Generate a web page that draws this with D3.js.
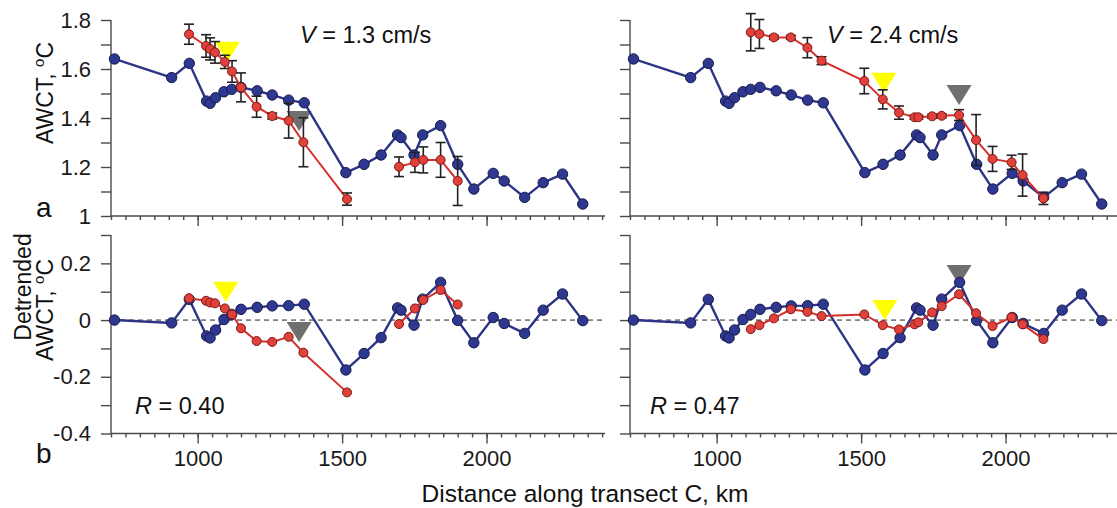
<!DOCTYPE html>
<html>
<head>
<meta charset="utf-8">
<script src="https://cdn.jsdelivr.net/npm/d3@7"></script>
<style>
  body { margin: 0; background: #fff; }
  svg { display: block; font-family: "Liberation Sans", Arial, sans-serif; }
  .tick text { fill: #1a1a1a; }
</style>
</head>
<body>
<svg id="chart" width="1117" height="508"></svg>
<script>
// blue series (same in both panels)
const distBlue = [712, 910, 971, 1031, 1043, 1062, 1091, 1118, 1150, 1206, 1258, 1315, 1369, 1513, 1576, 1635, 1692, 1704, 1749, 1779, 1841, 1900, 1956, 2023, 2061, 2132, 2196, 2263, 2333];
const awctBlue = [1.641, 1.565, 1.623, 1.469, 1.46, 1.483, 1.507, 1.517, 1.525, 1.511, 1.494, 1.473, 1.462, 1.177, 1.211, 1.249, 1.331, 1.32, 1.249, 1.331, 1.369, 1.211, 1.11, 1.174, 1.143, 1.076, 1.136, 1.171, 1.049];
const detBlue = [0.0, -0.01, 0.073, -0.056, -0.063, -0.035, 0.002, 0.02, 0.038, 0.045, 0.05, 0.051, 0.056, -0.176, -0.118, -0.062, 0.043, 0.035, -0.018, 0.074, 0.133, -0.001, -0.08, 0.009, -0.012, -0.047, 0.035, 0.092, -0.002];

// red series, V = 1.3 cm/s (two segments)
const distRedA = [970, 1029, 1043, 1060, 1094, 1119, 1150, 1204, 1258, 1315, 1366, 1517, 1697, 1752, 1781, 1841, 1900];
const awctRedA = [1.742, 1.694, 1.682, 1.668, 1.629, 1.59, 1.525, 1.446, 1.408, 1.389, 1.301, 1.069, 1.201, 1.219, 1.229, 1.229, 1.143];
const errRedA = [0.041, 0.046, 0.045, 0.044, 0.027, 0.044, 0.059, 0.043, 0.012, 0.071, 0.10, 0.025, 0.04, 0.041, 0.053, 0.071, 0.10];
const detRedA = [0.077, 0.068, 0.062, 0.059, 0.041, 0.02, -0.029, -0.074, -0.077, -0.059, -0.115, -0.255, -0.014, 0.041, 0.071, 0.106, 0.055];
const segRedA = [0, 0, 0, 0, 0, 0, 0, 0, 0, 0, 0, 0, 1, 1, 1, 1, 1];

// red series, V = 2.4 cm/s
const distRedB = [1118, 1148, 1198, 1257, 1314, 1363, 1511, 1575, 1631, 1685, 1698, 1746, 1779, 1839, 1898, 1955, 2021, 2059, 2131];
const awctRedB = [1.75, 1.743, 1.729, 1.729, 1.687, 1.634, 1.551, 1.476, 1.422, 1.403, 1.403, 1.407, 1.409, 1.412, 1.31, 1.233, 1.219, 1.167, 1.072];
const errRedB = [0.076, 0.059, 0.008, 0.008, 0.041, 0.016, 0.052, 0.039, 0.027, 0.008, 0.008, 0.008, 0.008, 0.022, 0.104, 0.051, 0.029, 0.086, 0.025];
const detRedB = [-0.032, -0.018, 0.006, 0.038, 0.029, 0.014, 0.02, -0.018, -0.033, -0.015, -0.008, 0.027, 0.049, 0.091, 0.024, -0.021, 0.01, -0.015, -0.067];
const segRedB = distRedB.map(() => 0);

// triangle markers: [distance, value at tip]
const triTopA = [[1103, 1.63, "yellow"], [1351, 1.347, "gray"]];
const triTopB = [[1579, 1.503, "yellow"], [1839, 1.453, "gray"]];
const triBotA = [[1097, 0.065, "yellow"], [1351, -0.077, "gray"]];
const triBotB = [[1582, 0.0, "yellow"], [1839, 0.124, "gray"]];

const topTicks = [1, 1.1, 1.2, 1.3, 1.4, 1.5, 1.6, 1.7, 1.8];
const topLabels = [1, 1.2, 1.4, 1.6, 1.8];
const botTicks = [-0.4, -0.3, -0.2, -0.1, 0, 0.1, 0.2, 0.3];
const botLabels = [-0.4, -0.2, 0, 0.2];
const xMajor = [1000, 1500, 2000];
const xMinor = d3.range(700, 2401, 50);

const blueLine = "#2e3586", blueFill = "#2f3890", blueEdge = "#161a4a";
const redLine = "#d6302a", redFill = "#e2403a", redEdge = "#7a1c18";
const triColor = { yellow: "#ffff00", gray: "#6f6f6f" };

const svg = d3.select("#chart");
const xDomain = [700, 2410];
const panelLeft = [111, 630];
const panelW = 494;

const yTop = d3.scaleLinear().domain([1, 1.8]).range([216, 20]);
const yBot = d3.scaleLinear().domain([-0.4, 0.3]).range([433.5, 235]);
const fmt = d => String(+d.toFixed(1));

function axes(g, x, y, ticks, labels, showY, showX) {
  const [y0, y1] = y.range();
  g.append("g")
    .attr("transform", `translate(${x.range()[0]},0)`)
    .call(d3.axisLeft(y).tickValues(ticks).tickSize(10).tickPadding(10)
      .tickFormat(d => (showY && labels.some(l => Math.abs(l - d) < 1e-9)) ? fmt(d) : ""))
    .call(a => a.select(".domain").attr("d", `M0,${y0}V${y1}`));
  g.append("g")
    .attr("transform", `translate(0,${y0})`)
    .call(d3.axisBottom(x).tickValues(xMinor).tickSize(4).tickFormat(""))
    .call(a => a.select(".domain").attr("d", `M${x.range()[0]},0H${x.range()[1]}`));
  g.append("g")
    .attr("transform", `translate(0,${y0})`)
    .call(d3.axisBottom(x).tickValues(xMajor).tickSize(10).tickPadding(7)
      .tickFormat(d => showX ? d : ""))
    .call(a => a.select(".domain").remove());
  g.selectAll(".domain, .tick line").attr("stroke", "#4a4a4a").attr("stroke-width", 1.4);
  g.selectAll(".tick text").attr("font-size", 22).attr("font-family", "Liberation Sans, Arial, sans-serif");
}

function triangles(g, x, y, tris) {
  g.selectAll("path.tri").data(tris).enter().append("path")
    .attr("class", "tri")
    .attr("d", d => {
      const px = x(d[0]), py = y(d[1]);
      return `M${px - 12.5},${py - 20}L${px + 12.5},${py - 20}L${px},${py}Z`;
    })
    .attr("fill", d => triColor[d[2]]);
}

function series(g, x, y, xs, ys, opts) {
  const pts = xs.map((d, i) => ({ x: d, y: ys[i], e: opts.err ? opts.err[i] : 0, s: opts.seg ? opts.seg[i] : 0 }));
  const groups = d3.groups(pts, d => d.s);
  const line = d3.line().x(d => x(d.x)).y(d => y(d.y));
  groups.forEach(([, p]) => {
    g.append("path").datum(p).attr("d", line)
      .attr("fill", "none").attr("stroke", opts.line).attr("stroke-width", opts.lw);
  });
  if (opts.err) {
    const eg = g.append("g").attr("stroke", "#222").attr("stroke-width", 1.6);
    pts.forEach(d => {
      const px = x(d.x), t = y(d.y + d.e), b = y(d.y - d.e);
      eg.append("line").attr("x1", px).attr("x2", px).attr("y1", t).attr("y2", b);
      eg.append("line").attr("x1", px - 5).attr("x2", px + 5).attr("y1", t).attr("y2", t);
      eg.append("line").attr("x1", px - 5).attr("x2", px + 5).attr("y1", b).attr("y2", b);
    });
  }
  g.selectAll(null).data(pts).enter().append("circle")
    .attr("cx", d => x(d.x)).attr("cy", d => y(d.y)).attr("r", opts.r)
    .attr("fill", opts.fill).attr("stroke", opts.edge).attr("stroke-width", 1);
}

const panels = [
  { red: [distRedA, awctRedA, errRedA, detRedA, segRedA], tt: triTopA, tb: triBotA, v: "1.3", r: "0.40", vx: 300, rx: 135 },
  { red: [distRedB, awctRedB, errRedB, detRedB, segRedB], tt: triTopB, tb: triBotB, v: "2.4", r: "0.47", vx: 827, rx: 650 }
];

panels.forEach((p, k) => {
  const x = d3.scaleLinear().domain(xDomain).range([panelLeft[k], panelLeft[k] + panelW]);
  const [dR, aR, eR, tR, sR] = p.red;

  // top panel
  const gt = svg.append("g");
  axes(gt, x, yTop, topTicks, topLabels, k === 0, false);
  triangles(gt, x, yTop, p.tt);
  series(gt, x, yTop, distBlue, awctBlue, { line: blueLine, lw: 2.4, fill: blueFill, edge: blueEdge, r: 5.2 });
  series(gt, x, yTop, dR, aR, { line: redLine, lw: 2, fill: redFill, edge: redEdge, r: 4.5, err: eR, seg: sR });
  const vt = gt.append("text").attr("x", p.vx).attr("y", 43).attr("font-size", 23.5).attr("fill", "#111");
  vt.append("tspan").attr("font-style", "italic").text("V");
  vt.append("tspan").text(` = ${p.v} cm/s`);

  // bottom panel
  const gb = svg.append("g");
  axes(gb, x, yBot, botTicks, botLabels, k === 0, true);
  gb.append("line")
    .attr("x1", x.range()[0]).attr("x2", x.range()[1])
    .attr("y1", yBot(0)).attr("y2", yBot(0))
    .attr("stroke", "#222").attr("stroke-width", 1).attr("stroke-dasharray", "5,4");
  triangles(gb, x, yBot, p.tb);
  series(gb, x, yBot, distBlue, detBlue, { line: blueLine, lw: 2.4, fill: blueFill, edge: blueEdge, r: 5.2 });
  series(gb, x, yBot, dR, tR, { line: redLine, lw: 2, fill: redFill, edge: redEdge, r: 4.5, seg: sR });
  const rt = gb.append("text").attr("x", p.rx).attr("y", 414).attr("font-size", 23.5).attr("fill", "#111");
  rt.append("tspan").attr("font-style", "italic").text("R");
  rt.append("tspan").text(` = ${p.r}`);
});

// axis titles and panel letters
function degLabel(g, text) {
  g.append("tspan").text(text);
  g.append("tspan").attr("font-size", 15).attr("dy", -9).text("o");
  g.append("tspan").attr("dy", 9).text("C");
}
degLabel(svg.append("text").attr("transform", "translate(53,93) rotate(-90)")
  .attr("text-anchor", "middle").attr("font-size", 23).attr("fill", "#111"), "AWCT, ");
svg.append("text").attr("transform", "translate(31,287) rotate(-90)")
  .attr("text-anchor", "middle").attr("font-size", 23).attr("fill", "#111").text("Detrended");
degLabel(svg.append("text").attr("transform", "translate(53,310) rotate(-90)")
  .attr("text-anchor", "middle").attr("font-size", 23).attr("fill", "#111"), "AWCT, ");

svg.append("text").attr("x", 36).attr("y", 217).attr("font-size", 28).attr("fill", "#111").text("a");
svg.append("text").attr("x", 36).attr("y", 463).attr("font-size", 28).attr("fill", "#111").text("b");

svg.append("text").attr("x", 585).attr("y", 502).attr("text-anchor", "middle")
  .attr("font-size", 24.5).attr("fill", "#111").text("Distance along transect C, km");
</script>
</body>
</html>
